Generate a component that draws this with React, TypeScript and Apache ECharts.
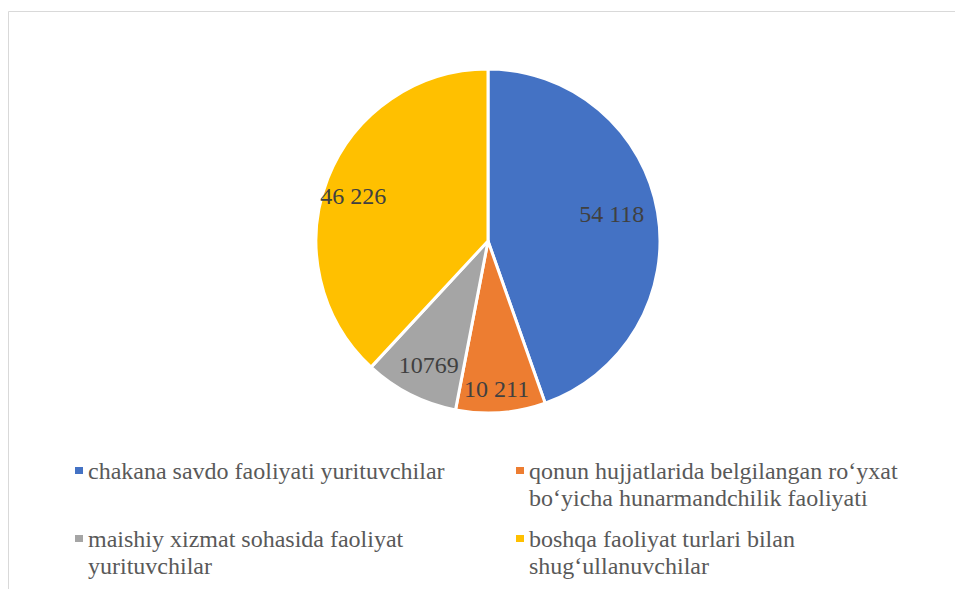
import React, { useEffect, useRef } from "react";
import * as echarts from "echarts";

const categories = [
  "chakana savdo faoliyati yurituvchilar",
  "qonun hujjatlarida belgilangan ro‘yxat bo‘yicha hunarmandchilik faoliyati",
  "maishiy xizmat sohasida faoliyat yurituvchilar",
  "boshqa faoliyat turlari bilan shug‘ullanuvchilar",
];
const legendLines = [
  "chakana savdo faoliyati yurituvchilar",
  "qonun hujjatlarida belgilangan ro‘yxat\nbo‘yicha hunarmandchilik faoliyati",
  "maishiy xizmat sohasida faoliyat\nyurituvchilar",
  "boshqa faoliyat turlari bilan\nshug‘ullanuvchilar",
];
const values = [54118, 10211, 10769, 46226];
const valueLabels = ["54 118", "10 211", "10769", "46 226"];
const colors = ["#4472C4", "#ED7D31", "#A5A5A5", "#FFC000"];
// label nudges relative to the default inside position
const labelNudge = [
  [36, -12],
  [2, 59],
  [-19, 45],
  [-52, -13],
];

const LH = 27;
const FONT = "Liberation Serif";

function iconPath(lines: number) {
  const h = LH * lines;
  const top = LH / 2 - 3.5;
  return `path://M0,0h0.01v0.01h-0.01zM0,${top}h8v7h-8zM0,${h - 0.01}h0.01v0.01h-0.01z`;
}

export default function App() {
  const ref = useRef<HTMLDivElement>(null);
  useEffect(() => {
    if (!ref.current) return;
    const chart = echarts.init(ref.current, null, { renderer: "svg" });
    const legendPos = [
      { left: 75, top: 457 },
      { left: 516, top: 457 },
      { left: 75, top: 525 },
      { left: 516, top: 525 },
    ];
    chart.setOption({
      animation: false,
      color: colors,
      graphic: [
        {
          type: "rect",
          shape: { x: 8.5, y: 11.5, width: 1000, height: 1000 },
          style: { fill: "none", stroke: "#d9d9d9", lineWidth: 1 },
          silent: true,
        },
      ],
      legend: categories.map((name, i) => {
        const lines = legendLines[i].split("\n").length;
        return {
          data: [name],
          left: legendPos[i].left,
          top: legendPos[i].top,
          padding: 0,
          orient: "horizontal",
          icon: iconPath(lines),
          itemWidth: 8,
          itemHeight: LH * lines,
          itemStyle: { borderWidth: 0 },
          selectedMode: false,
          formatter: () => legendLines[i],
          textStyle: {
            fontFamily: FONT,
            fontSize: 24,
            lineHeight: LH,
            color: "#595959",
          },
        };
      }),
      series: [
        {
          type: "pie",
          center: [488, 241],
          radius: [0, 172],
          startAngle: 90,
          clockwise: true,
          itemStyle: { borderColor: "#ffffff", borderWidth: 3 },
          label: {
            show: true,
            position: "inside",
            fontFamily: FONT,
            fontSize: 24,
            color: "#404040",
            formatter: (p: any) => valueLabels[p.dataIndex],
          },
          labelLine: { show: false },
          labelLayout: (p: any) => ({
            dx: labelNudge[p.dataIndex][0],
            dy: labelNudge[p.dataIndex][1],
          }),
          emphasis: { disabled: true },
          data: categories.map((name, i) => ({ name, value: values[i] })),
        },
      ],
    });
    return () => chart.dispose();
  }, []);
  return (
    <div
      ref={ref}
      style={{ position: "fixed", left: 0, top: 0, width: 955, height: 589, background: "#fff" }}
    />
  );
}
